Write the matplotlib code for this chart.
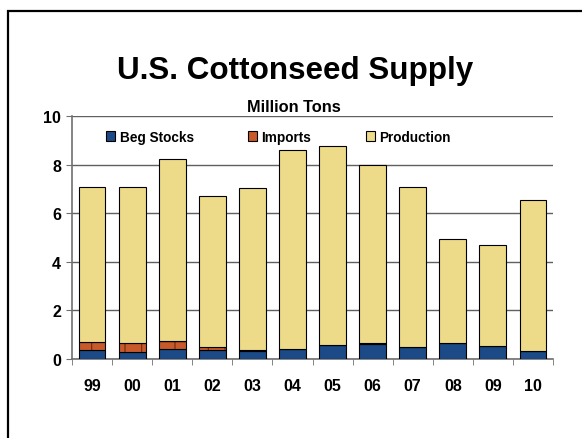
import matplotlib.pyplot as plt
import numpy as np
from matplotlib.patches import Rectangle, Patch

plt.rcParams['font.family'] = ['Liberation Sans', 'DejaVu Sans']
plt.rcParams['hatch.linewidth'] = 0.8

# U.S. cottonseed supply, million tons
years = ['99', '00', '01', '02', '03', '04', '05', '06', '07', '08', '09', '10']
beg_stocks = [0.38, 0.27, 0.41, 0.38, 0.34, 0.41, 0.59, 0.62, 0.49, 0.65, 0.53, 0.34]
imports = [0.32, 0.39, 0.33, 0.10, 0.02, 0.01, 0.00, 0.02, 0.00, 0.01, 0.02, 0.00]
production = [6.37, 6.43, 7.48, 6.22, 6.66, 8.19, 8.16, 7.33, 6.60, 4.28, 4.14, 6.20]

c_stocks = '#1C4A86'
c_imports = '#C8592A'
c_prod = '#EEDB8A'

fig = plt.figure(figsize=(5.82, 4.39), dpi=100)
ax = fig.add_axes([72 / 582, 1 - 360 / 439, 481 / 582, 243 / 439])

x = np.arange(len(years))
w = 0.67
stocks = np.array(beg_stocks)
imp = np.array(imports)
prod = np.array(production)

ax.bar(x, stocks, w, color=c_stocks, edgecolor='black', linewidth=0.8, zorder=3)
ax.bar(x, imp, w, bottom=stocks, color=c_imports, edgecolor='#6B2A10',
       linewidth=0, hatch='+', zorder=3)
ax.bar(x, imp, w, bottom=stocks, color='none', edgecolor='black',
       linewidth=0.8, zorder=3)
ax.bar(x, prod, w, bottom=stocks + imp, color=c_prod, edgecolor='black',
       linewidth=0.8, zorder=3)

ax.set_xlim(-0.5, len(years) - 0.5)
ax.set_ylim(0, 10)
ax.set_yticks([0, 2, 4, 6, 8, 10])
ax.set_xticks(x)
ax.set_xticklabels(years)
ax.set_xticks(np.arange(-0.5, len(years)), minor=True)
ax.tick_params(axis='x', which='major', length=0, pad=14)
ax.tick_params(axis='x', which='minor', length=4, color='#707070', direction='out')
ax.tick_params(axis='y', length=4, color='#707070', pad=4)
for lbl in ax.get_xticklabels() + ax.get_yticklabels():
    lbl.set_fontsize(11.5)
    lbl.set_fontweight('bold')

ax.grid(axis='y', color='#606060', linewidth=1.0, zorder=0)
for s in ['top', 'right']:
    ax.spines[s].set_visible(False)
for s in ['left', 'bottom']:
    ax.spines[s].set_color('#707070')
    ax.spines[s].set_linewidth(1.2)

handles = [Patch(facecolor=c, edgecolor='black', linewidth=0.8)
           for c in (c_stocks, c_imports, c_prod)]
ax.legend(handles, ['Beg Stocks', 'Imports', 'Production'], ncol=3,
          loc='upper left', bbox_to_anchor=(0.045, 0.993),
          frameon=False, handlelength=0.7, handleheight=0.7,
          handletextpad=0.3, columnspacing=4.0,
          prop={'weight': 'bold', 'size': 9.8})

fig.text(295 / 582, 1 - 78.5 / 439, 'U.S. Cottonseed Supply', ha='center',
         va='baseline', fontsize=22.6, fontweight='bold')
fig.text(294 / 582, 1 - 112 / 439, 'Million Tons', ha='center',
         va='baseline', fontsize=11.8, fontweight='bold')

fig.patches.append(Rectangle((7.5 / 582, -0.5), 1.5, 0.5 + (1 - 11.5 / 439),
                             transform=fig.transFigure, fill=False,
                             edgecolor='black', linewidth=1.6))

fig.savefig('out.png', dpi=100)
